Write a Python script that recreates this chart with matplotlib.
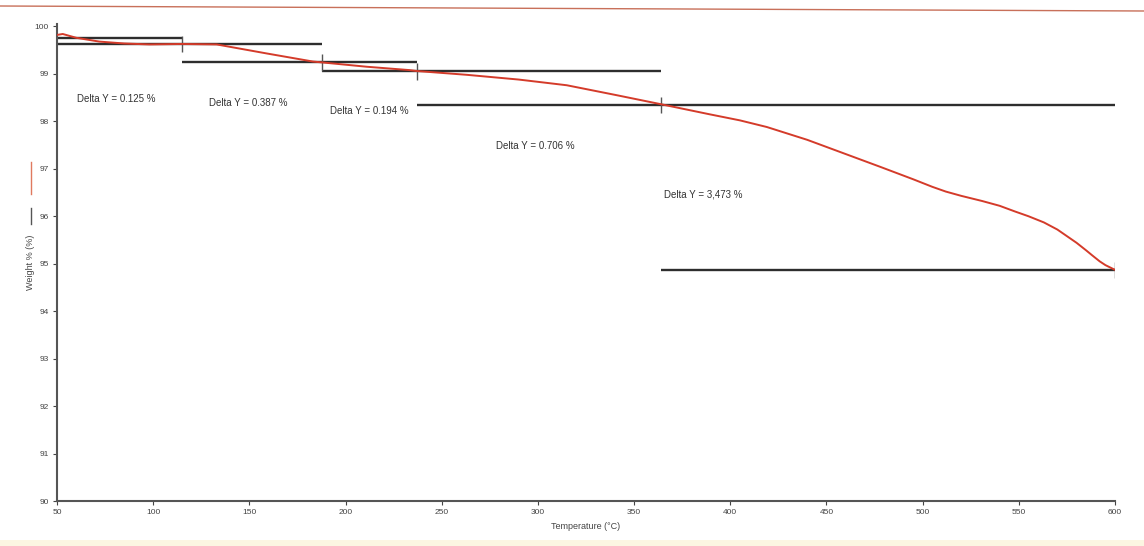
import matplotlib
matplotlib.use("Agg")
import matplotlib.pyplot as plt
from matplotlib.lines import Line2D
from matplotlib.patches import Rectangle

plt.rcParams["font.family"] = ["Liberation Sans", "DejaVu Sans"]

# TGA weight-loss curve
temperature = [50, 53, 60, 72, 85, 98, 115, 133, 159, 183, 211, 233, 237,
               263, 290, 315, 341, 364, 389, 405, 419, 440, 458, 478, 495,
               505, 512, 520, 531, 540, 548, 555, 563, 570, 575, 580, 585,
               588, 592, 595, 600]
weight = [99.82, 99.84, 99.76, 99.68, 99.64, 99.62, 99.63, 99.62, 99.43,
          99.26, 99.15, 99.08, 99.06, 98.98, 98.88, 98.76, 98.55, 98.36,
          98.15, 98.02, 97.88, 97.61, 97.34, 97.04, 96.78, 96.62, 96.52,
          96.43, 96.32, 96.22, 96.10, 96.00, 95.87, 95.72, 95.58, 95.44,
          95.28, 95.18, 95.05, 94.97, 94.87]

# step analysis: boundary temperatures and the weight loss in each step
step_bounds = [50, 115, 188, 237, 364, 600]
start_weight = 99.76
delta_y = [0.125, 0.387, 0.194, 0.706, 3.473]
delta_labels = ["Delta Y = 0.125 %", "Delta Y = 0.387 %", "Delta Y = 0.194 %",
                "Delta Y = 0.706 %", "Delta Y = 3,473 %"]

x_ticks = [50, 100, 150, 200, 250, 300, 350, 400, 450, 500, 550, 600]
y_ticks = [90, 91, 92, 93, 94, 95, 96, 97, 98, 99, 100]

# cumulative weight at each step boundary
bound_weight = [start_weight]
for d in delta_y:
    bound_weight.append(bound_weight[-1] - d)

fig = plt.figure(figsize=(11.44, 5.46), dpi=100)
ax = fig.add_axes([0.0498, 0.0824, 0.9249, 0.8736])

curve_color = "#d43b2a"
step_color = "#2e2e2e"

ax.plot(temperature, weight, color=curve_color, lw=1.4, zorder=3,
        solid_joinstyle="round")

for i in range(len(delta_y)):
    t0, t1 = step_bounds[i], step_bounds[i + 1]
    ax.hlines([bound_weight[i], bound_weight[i + 1]], t0, t1,
              color=step_color, lw=1.7, zorder=2)
for i in range(1, len(step_bounds)):
    ax.vlines(step_bounds[i], bound_weight[i] - 0.18, bound_weight[i] + 0.17,
              color="#555555", lw=1.0, zorder=2)

label_pos = [(60.4, 98.47), (129, 98.39), (192, 98.22), (278, 97.48),
             (365.5, 96.46)]
for txt, (lx, ly) in zip(delta_labels, label_pos):
    ax.text(lx, ly, txt, fontsize=7, color="#333333", ha="left", va="center")

ax.set_xlim(50, 600)
ax.set_ylim(90, 100.05)
ax.set_xticks(x_ticks)
ax.set_yticks(y_ticks)
ax.tick_params(axis="both", labelsize=6, colors="#444444", length=3,
               width=0.8, direction="out", pad=3)

for side in ("top", "right"):
    ax.spines[side].set_visible(False)
for side in ("left", "bottom"):
    ax.spines[side].set_color("#555555")
    ax.spines[side].set_linewidth(1.5)

ax.set_xlabel("Temperature (°C)", fontsize=6.5, color="#444444", labelpad=4)
fig.text(0.027, 0.52, "Weight % (%)", rotation=90, fontsize=6.5,
         color="#444444", ha="center", va="center")

# series key drawn beside the y label
fig.add_artist(Line2D([0.027, 0.027], [1 - 162 / 546, 1 - 194 / 546],
                      color="#e07a5f", lw=1.0, transform=fig.transFigure))
fig.add_artist(Line2D([0.027, 0.027], [1 - 208 / 546, 1 - 224 / 546],
                      color="#555555", lw=1.0, transform=fig.transFigure))

# page border line across the top and tinted strip at the bottom
fig.add_artist(Line2D([0, 1], [1 - 6 / 546, 1 - 11 / 546],
                      color="#c8705a", lw=1.0, transform=fig.transFigure))
fig.add_artist(Rectangle((0, 0), 1, 6 / 546, transform=fig.transFigure,
                         facecolor="#fcf6e2", edgecolor="none"))

fig.savefig("out.png", dpi=100)
